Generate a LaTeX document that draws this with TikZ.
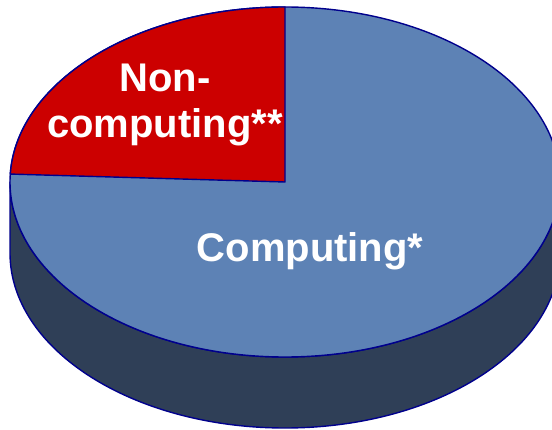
\documentclass[tikz,border=0pt]{standalone}
\usepackage{fontspec}
\setmainfont{Liberation Sans}
\definecolor{pieblue}{RGB}{93,130,181}
\definecolor{piered}{RGB}{204,0,0}
\definecolor{pieside}{RGB}{47,63,87}
\definecolor{pieline}{RGB}{0,0,140}
\begin{document}
\begin{tikzpicture}[x=1pt,y=1pt,
  edge/.style={draw=pieline,line width=1.4pt,line join=round},
  label/.style={text=white,font=\bfseries\fontsize{40}{46}\selectfont,inner sep=0pt,align=center}]
\useasboundingbox (0,0) rectangle (552,429);
\clip (0,0) rectangle (552,429);
% side band
\path[edge,fill=pieside] (10,247) -- (10,176)
  arc[start angle=180,end angle=360,x radius=275,y radius=175]
  -- (560,247)
  arc[start angle=0,end angle=-180,x radius=275,y radius=175] -- cycle;
% top
\path[edge,fill=pieblue] (285,247) ellipse[x radius=275,y radius=175];
% red slice
\coordinate (c) at (285,247);
\path[edge,fill=piered] (c) -- (285,422)
  arc[start angle=90,end angle=177.4,x radius=275,y radius=175] -- cycle;
\node[label] (non) at (165,324) {Non-\\computing**};
\node[label,anchor=base] (comp) at (310,167) {Computing*};
\end{tikzpicture}
\end{document}
